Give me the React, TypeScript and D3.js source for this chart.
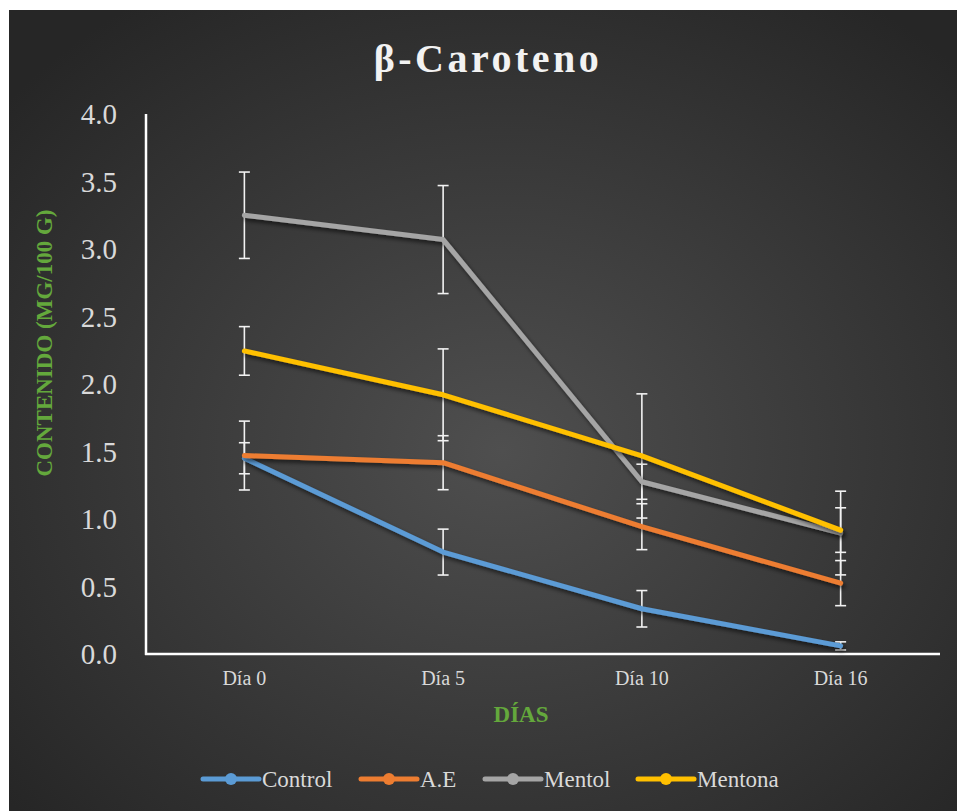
import React from "react";
import * as d3 from "d3";

const categories = ["Día 0", "Día 5", "Día 10", "Día 16"];
const seriesNames = ["Control", "A.E", "Mentol", "Mentona"];
const seriesColors = ["#5B9BD5", "#ED7D31", "#A5A5A5", "#FFC000"];
const controlValues = [1.45, 0.755, 0.335, 0.06];
const aeValues = [1.47, 1.417, 0.943, 0.525];
const mentolValues = [3.25, 3.07, 1.276, 0.896];
const mentonaValues = [2.245, 1.92, 1.467, 0.918];
const controlErr = [0.115, 0.17, 0.135, 0.03];
const aeErr = [0.255, 0.2, 0.17, 0.167];
const mentolErr = [0.32, 0.4, 0.13, 0.31];
const mentonaErr = [0.18, 0.34, 0.46, 0.165];
const yTicks = [0, 0.5, 1, 1.5, 2, 2.5, 3, 3.5, 4];

const W = 957;
const H = 811;

export default function App() {
  const x = d3.scalePoint<string>().domain(categories).range([145, 940]).padding(0.5);
  const y = d3.scaleLinear().domain([0, 4]).range([654, 114]);
  const values = [controlValues, aeValues, mentolValues, mentonaValues];
  const errs = [controlErr, aeErr, mentolErr, mentonaErr];
  const line = d3
    .line<number>()
    .x((_, i) => x(categories[i]) as number)
    .y((d) => y(d));
  const fmt = d3.format(".1f");
  const serif = "'Liberation Serif', 'Times New Roman', serif";
  const textCol = "#d9d9d9";
  const green = "#64A83C";

  const legendX = [203, 361, 485, 638];

  return (
    <svg
      width={W}
      height={H}
      style={{ position: "absolute", left: 0, top: 0 }}
      fontFamily={serif}
    >
      <defs>
        <radialGradient id="bg" cx="0.52" cy="0.55" r="0.68">
          <stop offset="0" stopColor="#4f4f4f" />
          <stop offset="1" stopColor="#262626" />
        </radialGradient>
        <filter id="shadow" x="-10%" y="-10%" width="130%" height="130%">
          <feDropShadow dx="2" dy="3" stdDeviation="2" floodColor="#000" floodOpacity="0.6" />
        </filter>
      </defs>
      <rect x={0} y={0} width={W} height={H} fill="#ffffff" />
      <rect x={9} y={10} width={W - 9} height={H - 10} fill="url(#bg)" />

      <text
        x={488}
        y={72}
        textAnchor="middle"
        fontSize={40}
        fontWeight="bold"
        letterSpacing={3.5}
        fill="#f2f2f2"
      >
        β-Caroteno
      </text>

      {/* y ticks */}
      {yTicks.map((t) => (
        <text
          key={t}
          x={117}
          y={y(t)}
          dy="0.35em"
          textAnchor="end"
          fontSize={29}
          fill={textCol}
        >
          {fmt(t)}
        </text>
      ))}
      {/* x ticks */}
      {categories.map((c) => (
        <text key={c} x={x(c)} y={685} textAnchor="middle" fontSize={20} fill={textCol}>
          {c}
        </text>
      ))}

      {/* axes */}
      <line x1={146} x2={146} y1={114} y2={655} stroke="#ffffff" strokeWidth={2.5} />
      <line x1={145} x2={940} y1={654} y2={654} stroke="#ffffff" strokeWidth={2.5} />

      {/* axis titles */}
      <text x={521} y={722} textAnchor="middle" fontSize={23} fontWeight="bold" fill={green}>
        DÍAS
      </text>
      <text
        transform={`translate(52,343) rotate(-90)`}
        textAnchor="middle"
        fontSize={23}
        fontWeight="bold"
        fill={green}
      >
        CONTENIDO (MG/100 G)
      </text>

      {/* error bars */}
      {values.map((vals, s) =>
        vals.map((v, i) => {
          const cx = x(categories[i]) as number;
          const e = errs[s][i];
          const y1 = y(v + e);
          const y2 = y(Math.max(0, v - e));
          return (
            <g key={`e${s}-${i}`} stroke="#f2f2f2" strokeWidth={1.6}>
              <line x1={cx} x2={cx} y1={y1} y2={y2} />
              <line x1={cx - 5.5} x2={cx + 5.5} y1={y1} y2={y1} />
              <line x1={cx - 5.5} x2={cx + 5.5} y1={y2} y2={y2} />
            </g>
          );
        })
      )}

      {/* lines */}
      {values.map((vals, s) => (
        <path
          key={`l${s}`}
          d={line(vals) as string}
          fill="none"
          stroke={seriesColors[s]}
          strokeWidth={5}
          strokeLinecap="round"
          strokeLinejoin="round"
          filter="url(#shadow)"
        />
      ))}

      {/* legend */}
      {seriesNames.map((n, s) => (
        <g key={n}>
          <line
            x1={legendX[s]}
            x2={legendX[s] + 56}
            y1={779}
            y2={779}
            stroke={seriesColors[s]}
            strokeWidth={5}
            strokeLinecap="round"
          />
          <circle cx={legendX[s] + 28} cy={779} r={6} fill={seriesColors[s]} />
          <text x={legendX[s] + 59} y={779} dy="0.35em" fontSize={23} fill={textCol}>
            {n}
          </text>
        </g>
      ))}
    </svg>
  );
}
